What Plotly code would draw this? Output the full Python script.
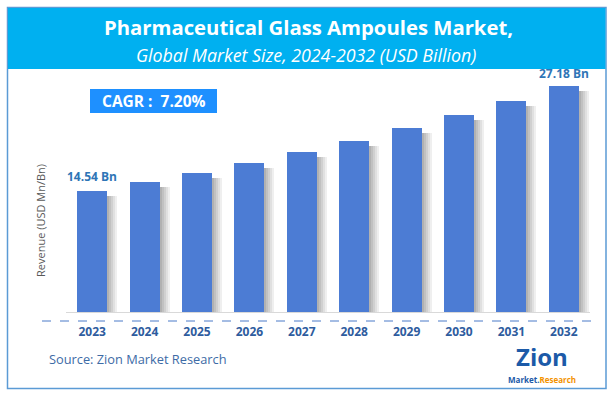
import plotly.graph_objects as go

# ---- data ----
years = ["2023", "2024", "2025", "2026", "2027", "2028", "2029", "2030", "2031", "2032"]
revenue = [14.54, 15.59, 16.71, 17.91, 19.20, 20.58, 22.06, 23.65, 25.35, 27.18]
label_first = "14.54 Bn"
label_last = "27.18 Bn"
cagr_text = "CAGR :  7.20%"
title_text = "Pharmaceutical Glass Ampoules Market,"
subtitle_text = "Global Market Size, 2024-2032 (USD Billion)"
yaxis_text = "Revenue (USD Mn/Bn)"
source_text = "Source: Zion Market Research"

# ---- layout geometry (pixels) ----
W, H = 613, 397
ML, MR, MT, MB = 66, 23, 62, 85
PW = W - ML - MR
PH = H - MT - MB
YMAX = 30.0


def X(px):
    return (px - ML) / PW


def Y(py):
    return (H - MB - py) / PH


bar_w = 0.573
fig = go.Figure()

# soft shadow strips to the right of each bar
shadow_drop = 5 * YMAX / PH
strip = 2.0 / (PW / len(years))
opac = [0.6, 0.5, 0.4, 0.3, 0.2, 0.1]
for i, op in enumerate(opac):
    fig.add_trace(go.Bar(
        x=years, y=[v - shadow_drop for v in revenue],
        width=strip, offset=bar_w / 2 - strip + i * strip,
        marker=dict(color=f"rgba(100,100,100,{op})", line=dict(width=0)),
        hoverinfo="skip", showlegend=False,
    ))

fig.add_trace(go.Bar(
    x=years, y=revenue, width=bar_w, offset=-bar_w / 2,
    marker=dict(color="#4C7CD4", line=dict(width=0)),
    showlegend=False,
))

ann = []
# data labels (category axis: use category index)
ann.append(dict(x=0, y=revenue[0], xref="x", yref="y", text=f"<b>{label_first}</b>",
                showarrow=False, yanchor="bottom", yshift=4,
                font=dict(family="Open Sans", size=12, color="#2E75B6")))
ann.append(dict(x=len(years) - 1, y=revenue[-1], xref="x", yref="y", text=f"<b>{label_last}</b>",
                showarrow=False, yanchor="bottom", yshift=2,
                font=dict(family="Open Sans", size=12, color="#2E75B6")))
# title / subtitle
ann.append(dict(x=X(308.5), y=Y(27), xref="paper", yref="paper", text=f"<b>{title_text}</b>",
                showarrow=False, xanchor="center", yanchor="middle",
                font=dict(family="Open Sans", size=20.3, color="white")))
ann.append(dict(x=X(305.5), y=Y(55), xref="paper", yref="paper", text=f"<i>{subtitle_text}</i>",
                showarrow=False, xanchor="center", yanchor="middle",
                font=dict(family="Open Sans", size=17.8, color="white")))
# CAGR
ann.append(dict(x=X(154), y=Y(101), xref="paper", yref="paper", text=f"<b>{cagr_text}</b>",
                showarrow=False, xanchor="center", yanchor="middle",
                font=dict(family="Open Sans", size=15.5, color="white")))
# y axis title
ann.append(dict(x=X(40), y=Y(221), xref="paper", yref="paper", text=yaxis_text, textangle=-90,
                showarrow=False, xanchor="center", yanchor="middle",
                font=dict(family="Open Sans", size=11, color="#595959")))
# source
ann.append(dict(x=X(47), y=Y(359), xref="paper", yref="paper", text=source_text,
                showarrow=False, xanchor="left", yanchor="middle",
                font=dict(family="Open Sans", size=12.8, color="#3D6BA6")))
# logo
ann.append(dict(x=X(542), y=Y(356.5), xref="paper", yref="paper",
                text="<b>Zion</b>", showarrow=False, xanchor="center", yanchor="middle",
                font=dict(family="Open Sans", size=24, color="#1C5AA8")))
ann.append(dict(x=X(542), y=Y(379), xref="paper", yref="paper",
                text="<b><span style='color:#1C5AA8'>Market.</span><span style='color:#F39200'>Research</span></b>",
                showarrow=False, xanchor="center", yanchor="middle",
                font=dict(family="Open Sans", size=8, color="#1C5AA8")))

shapes = [
    dict(type="rect", xref="paper", yref="paper", x0=X(7.5), x1=X(606), y0=Y(7.5), y1=Y(388.5),
         line=dict(color="#5B9BD5", width=1.5), fillcolor="rgba(0,0,0,0)", layer="below"),
    dict(type="rect", xref="paper", yref="paper", x0=X(8), x1=X(605.5), y0=Y(8), y1=Y(69),
         line=dict(width=0), fillcolor="#00B0F0", layer="below"),
    dict(type="rect", xref="paper", yref="paper", x0=X(90), x1=X(217), y0=Y(89), y1=Y(113),
         line=dict(width=0), fillcolor="#1E90FF", layer="below"),
    dict(type="line", xref="paper", yref="paper", x0=X(42), x1=X(592), y0=Y(321), y1=Y(321),
         line=dict(color="#4A7BC8", width=1, dash="dash")),
]

fig.update_layout(
    width=W, height=H, autosize=False,
    margin=dict(l=ML, r=MR, t=MT, b=MB, pad=0),
    paper_bgcolor="white", plot_bgcolor="white",
    barmode="overlay", bargap=0,
    showlegend=False,
    annotations=ann, shapes=shapes,
    xaxis=dict(type="category", range=[-0.5, 9.5], showgrid=False, zeroline=False,
               showline=True, linecolor="#D9D9D9", linewidth=1,
               ticks="", ticklabelstandoff=9,
               tickfont=dict(family="Open Sans", size=12, color="#2E5C9E", weight="bold")),
    yaxis=dict(range=[0, YMAX], showgrid=False, zeroline=False, showticklabels=False,
               showline=False, ticks=""),
)

fig.write_html("out.html", config={"displayModeBar": False},
               post_script="document.body.style.margin='0';document.body.style.overflow='hidden';")
